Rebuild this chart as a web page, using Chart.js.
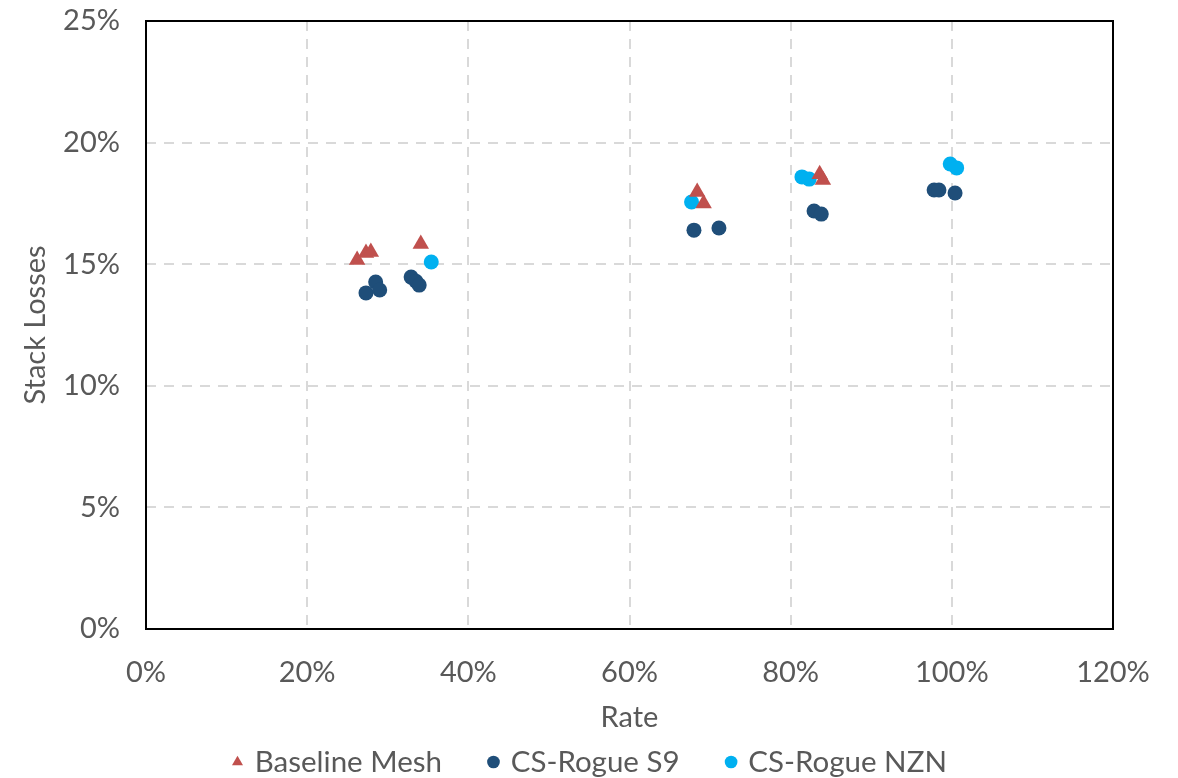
<!DOCTYPE html>
<html><head><meta charset="utf-8">
<script src="https://cdn.jsdelivr.net/npm/chart.js@4/dist/chart.umd.min.js"></script>
<style>html,body{margin:0;padding:0;background:#fff}#wrap{width:1178px;height:778px}</style>
</head><body><div id="wrap"><canvas id="c" width="1178" height="778"></canvas></div>
<script>
const seriesNames = ["Baseline Mesh", "CS-Rogue S9", "CS-Rogue NZN"];
const baselineX = [26.2, 27.3, 27.9, 34.1, 68.4, 69.2, 83.6, 84.0];
const baselineY = [15.17, 15.46, 15.5, 15.83, 17.97, 17.5, 18.7, 18.46];
const s9X = [27.3, 28.5, 29.0, 32.9, 33.5, 33.9, 68.0, 71.1, 82.9, 83.8, 97.8, 98.4, 100.4];
const s9Y = [13.82, 14.27, 13.94, 14.47, 14.3, 14.14, 16.4, 16.49, 17.19, 17.06, 18.05, 18.05, 17.93];
const nznX = [35.4, 67.7, 81.4, 82.3, 99.8, 100.6];
const nznY = [15.09, 17.56, 18.59, 18.5, 19.12, 18.96];
const xTicks = [0, 20, 40, 60, 80, 100, 120];
const yTicks = [0, 5, 10, 15, 20, 25];

const pts = (xs, ys) => xs.map((x, i) => ({x: x, y: ys[i]}));
const FONT = "Lato";
const TXT = "#595959";
const LEG_PAD = 49;
const LEG_TEXT_Y = 762;
const LEG_FIRST_X = 235;

const borderPlugin = {
  id: "areaBorder",
  beforeLayout(chart) {
    const lg = chart.legend;
    if (lg && !lg._patched) {
      const f = lg.fit.bind(lg);
      lg.fit = function () { f(); this.height = 37; };
      lg._patched = true;
    }
  },
  afterLayout(chart) {
    const lg = chart.legend;
    if (!lg) return;
    const fs = lg.options.labels.font.size;
    lg.top = LEG_TEXT_Y - LEG_PAD - fs / 2;
    lg.bottom = 778;
    const lw = lg.lineWidths[0];
    const cur = (lg.left + LEG_PAD + lg.right - lw) / 2;
    const dx = LEG_FIRST_X - cur;
    lg.left += dx; lg.right += dx;
  },
  afterDraw(chart) {
    const a = chart.chartArea, ctx = chart.ctx;
    ctx.save();
    ctx.strokeStyle = "#000";
    ctx.lineWidth = 2;
    ctx.strokeRect(a.left, a.top, a.right - a.left, a.bottom - a.top);
    ctx.restore();
  }
};

new Chart(document.getElementById("c"), {
  type: "scatter",
  data: {
    datasets: [
      {label: seriesNames[0], data: pts(baselineX, baselineY), pointStyle: "triangle", pointRadius: 9.5, backgroundColor: "#C0504D", borderColor: "#C0504D", borderWidth: 0},
      {label: seriesNames[1], data: pts(s9X, s9Y), pointStyle: "circle", pointRadius: 7.5, backgroundColor: "#1F4E79", borderColor: "#1F4E79", borderWidth: 0},
      {label: seriesNames[2], data: pts(nznX, nznY), pointStyle: "circle", pointRadius: 7.5, backgroundColor: "#00B0F0", borderColor: "#00B0F0", borderWidth: 0}
    ]
  },
  options: {
    responsive: false,
    animation: false,
    layout: {padding: {top: 0, right: 65, left: 0, bottom: 0}},
    plugins: {
      tooltip: {enabled: false},
      legend: {
        position: "bottom",
        labels: {usePointStyle: true, boxWidth: 5, boxHeight: 9, padding: LEG_PAD, color: TXT, font: {family: FONT, size: 29.5}}
      }
    },
    scales: {
      x: {
        type: "linear", min: 0, max: 120,
        afterBuildTicks: s => { s.ticks = xTicks.map(v => ({value: v})); },
        afterFit: s => { s.height = 112; },
        grid: {color: "#D9D9D9", lineWidth: 2, drawTicks: false},
        border: {display: false, dash: [10, 8]},
        ticks: {padding: 26, color: TXT, font: {family: FONT, size: 29}, callback: v => v + "%"},
        title: {display: true, text: "Rate", color: TXT, font: {family: FONT, size: 29}, padding: {top: 0, bottom: 6}}
      },
      y: {
        type: "linear", min: 0, max: 25,
        afterBuildTicks: s => { s.ticks = yTicks.map(v => ({value: v})); },
        afterFit: s => { s.width = 146; s.paddingTop = 21; s.paddingBottom = 0; },
        grid: {color: "#D9D9D9", lineWidth: 2, drawTicks: false},
        border: {display: false, dash: [10, 8]},
        ticks: {padding: 26, color: TXT, font: {family: FONT, size: 29}, callback: v => v + "%"},
        title: {display: true, text: "Stack Losses", color: TXT, font: {family: FONT, size: 29}, padding: {top: 18, bottom: 0}}
      }
    }
  },
  plugins: [borderPlugin]
});
</script></body></html>
